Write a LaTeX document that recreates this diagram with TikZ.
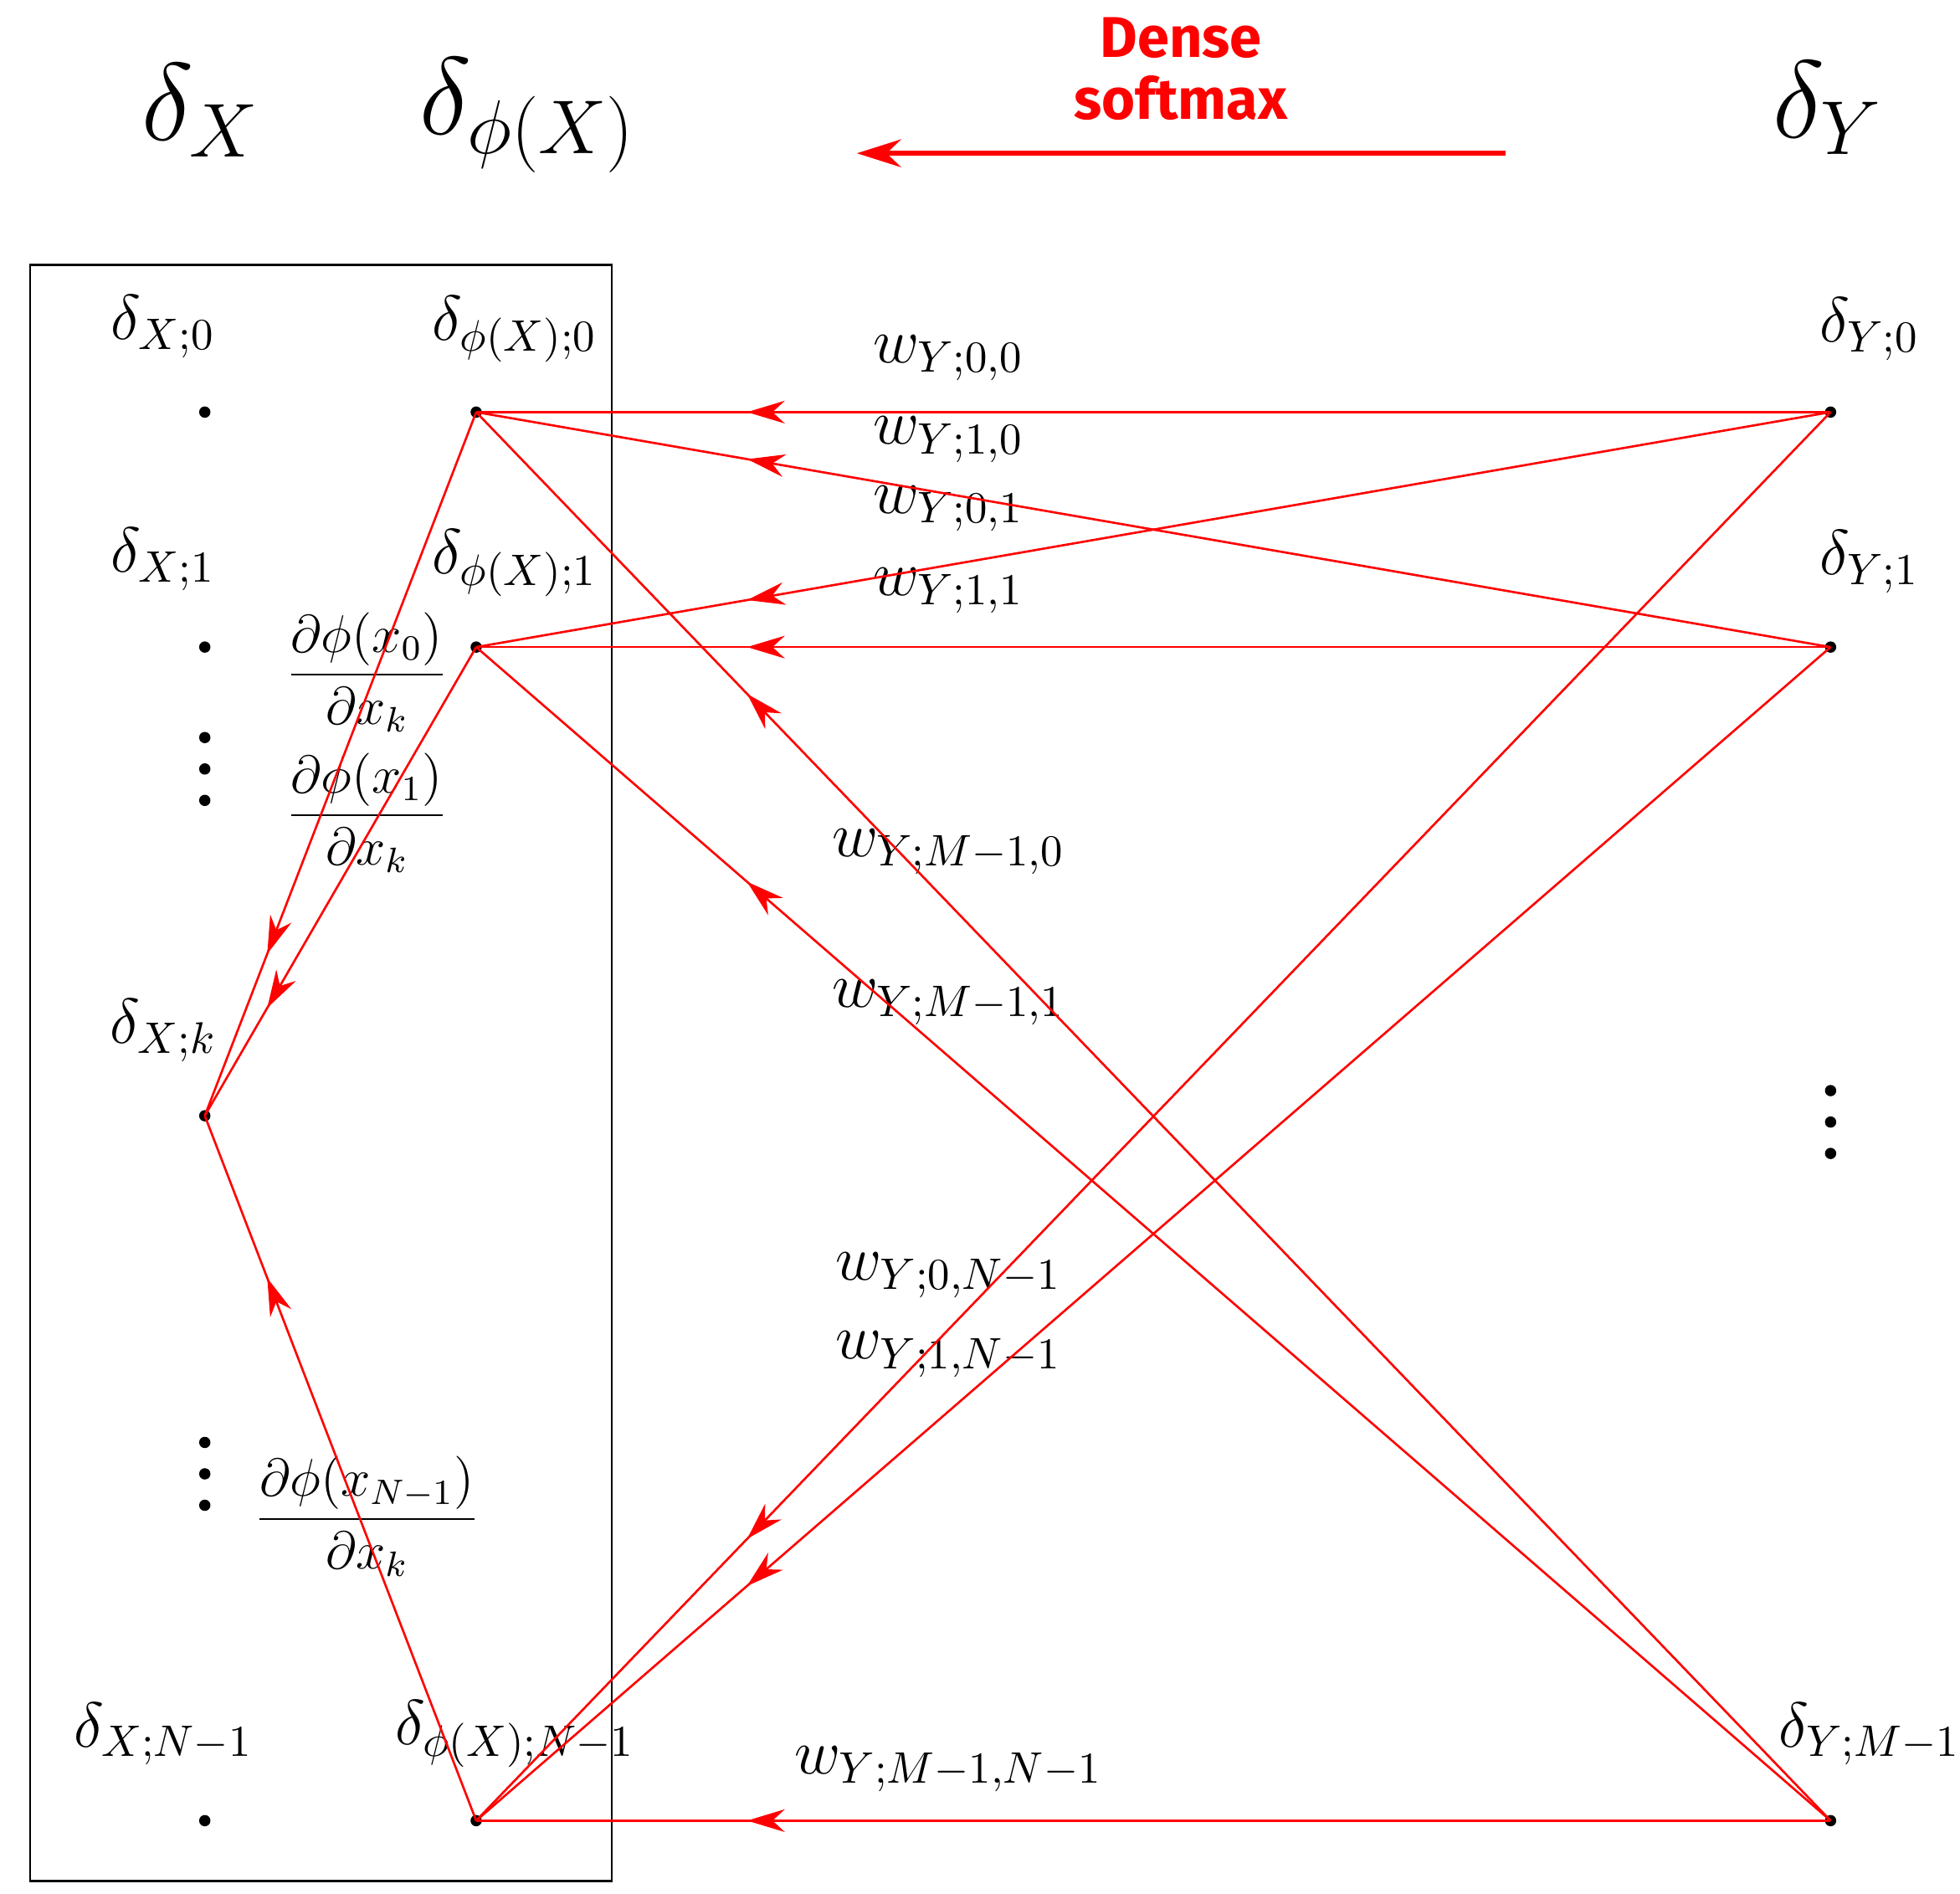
\documentclass[tikz,border=0pt]{standalone}
\usepackage{amsmath}
\usepackage{fontspec}
\newfontfamily\labfont{Fira Sans}
\usetikzlibrary{arrows.meta,decorations.markings}
\begin{document}
\begin{tikzpicture}[x=0.01cm,y=-0.01cm,
  dot/.style={circle,fill=black,inner sep=0pt,minimum size=0.09cm},
  lab/.style={font=\Large},
  big/.style={font=\fontsize{24}{28}\selectfont},
  wire/.style={red,line width=0.5pt,postaction={decorate},decoration={markings,mark=at position #1 with {\arrow{Stealth[length=0.3cm,width=0.18cm]}}}},
  wire/.default=0.80]
\useasboundingbox (0,0) rectangle (1560,1507);
\draw[line width=0.5pt] (24,211) rectangle (487,1497);
% nodes
\node[dot] (x0) at (163,328) {};
\node[dot] (x1) at (163,515) {};
\node[dot] (xk) at (163,888) {};
\node[dot] (xn) at (163,1449) {};
\node[dot] (p0) at (379,328) {};
\node[dot] (p1) at (379,515) {};
\node[dot] (pn) at (379,1449) {};
\node[dot] (y0) at (1457,328) {};
\node[dot] (y1) at (1457,515) {};
\node[dot] (ym) at (1457,1449) {};
% vertical dots
\foreach \n/\x/\y in {a/163/612,b/163/1173,c/1457/893}{
  \node[dot] (v\n1) at (\x,\y-25) {};
  \node[dot] (v\n2) at (\x,\y) {};
  \node[dot] (v\n3) at (\x,\y+25) {};
}
% headers
\node[big] (hx) at (160,88) {$\delta_X$};
\node[big] (hp) at (420,92) {$\delta_{\phi(X)}$};
\node[big] (hy) at (1455,86) {$\delta_Y$};
\node[red,font=\labfont\bfseries\fontsize{13}{14}\selectfont,align=center] (ds) at (940,55) {Dense\\softmax};
\coordinate (as) at (1198,122);
\coordinate (ae) at (682,122);
\draw[red,line width=1.2pt,-{Stealth[length=0.35cm,width=0.22cm]}] (as) -- (ae);
% node labels
\node[lab] (lx0) at (130,260) {$\delta_{X;0}$};
\node[lab] (lx1) at (130,445) {$\delta_{X;1}$};
\node[lab] (lxk) at (130,820) {$\delta_{X;k}$};
\node[lab] (lxn) at (130,1380) {$\delta_{X;N-1}$};
\node[lab] (lp0) at (410,262) {$\delta_{\phi(X);0}$};
\node[lab] (lp1) at (410,448) {$\delta_{\phi(X);1}$};
\node[lab] (lpn) at (410,1380) {$\delta_{\phi(X);N-1}$};
\node[lab] (ly0) at (1488,262) {$\delta_{Y;0}$};
\node[lab] (ly1) at (1488,447) {$\delta_{Y;1}$};
\node[lab] (lym) at (1488,1380) {$\delta_{Y;M-1}$};
% fractions
\node[font=\large] (f0) at (292,535) {$\dfrac{\partial\phi(x_0)}{\partial x_k}$};
\node[font=\large] (f1) at (292,647) {$\dfrac{\partial\phi(x_1)}{\partial x_k}$};
\node[font=\large] (fn) at (292,1207) {$\dfrac{\partial\phi(x_{N-1})}{\partial x_k}$};
% weight labels
\node[lab] (w00) at (755,285) {$w_{Y;0,0}$};
\node[lab] (w10) at (755,350) {$w_{Y;1,0}$};
\node[lab] (w01) at (755,405) {$w_{Y;0,1}$};
\node[lab] (w11) at (755,470) {$w_{Y;1,1}$};
\node[lab] (wm0) at (755,678) {$w_{Y;M-1,0}$};
\node[lab] (wm1) at (755,798) {$w_{Y;M-1,1}$};
\node[lab] (w0n) at (755,1015) {$w_{Y;0,N-1}$};
\node[lab] (w1n) at (755,1078) {$w_{Y;1,N-1}$};
\node[lab] (wmn) at (755,1408) {$w_{Y;M-1,N-1}$};
% wires
\foreach \a/\b in {y0/p0,y1/p0,ym/p0,y0/p1,y1/p1,ym/p1,y0/pn,y1/pn,ym/pn}
  \draw[wire] (\a.center) -- (\b.center);
\foreach \a in {p0,p1,pn}
  \draw[wire=0.77] (\a.center) -- (xk.center);
\end{tikzpicture}
\end{document}
